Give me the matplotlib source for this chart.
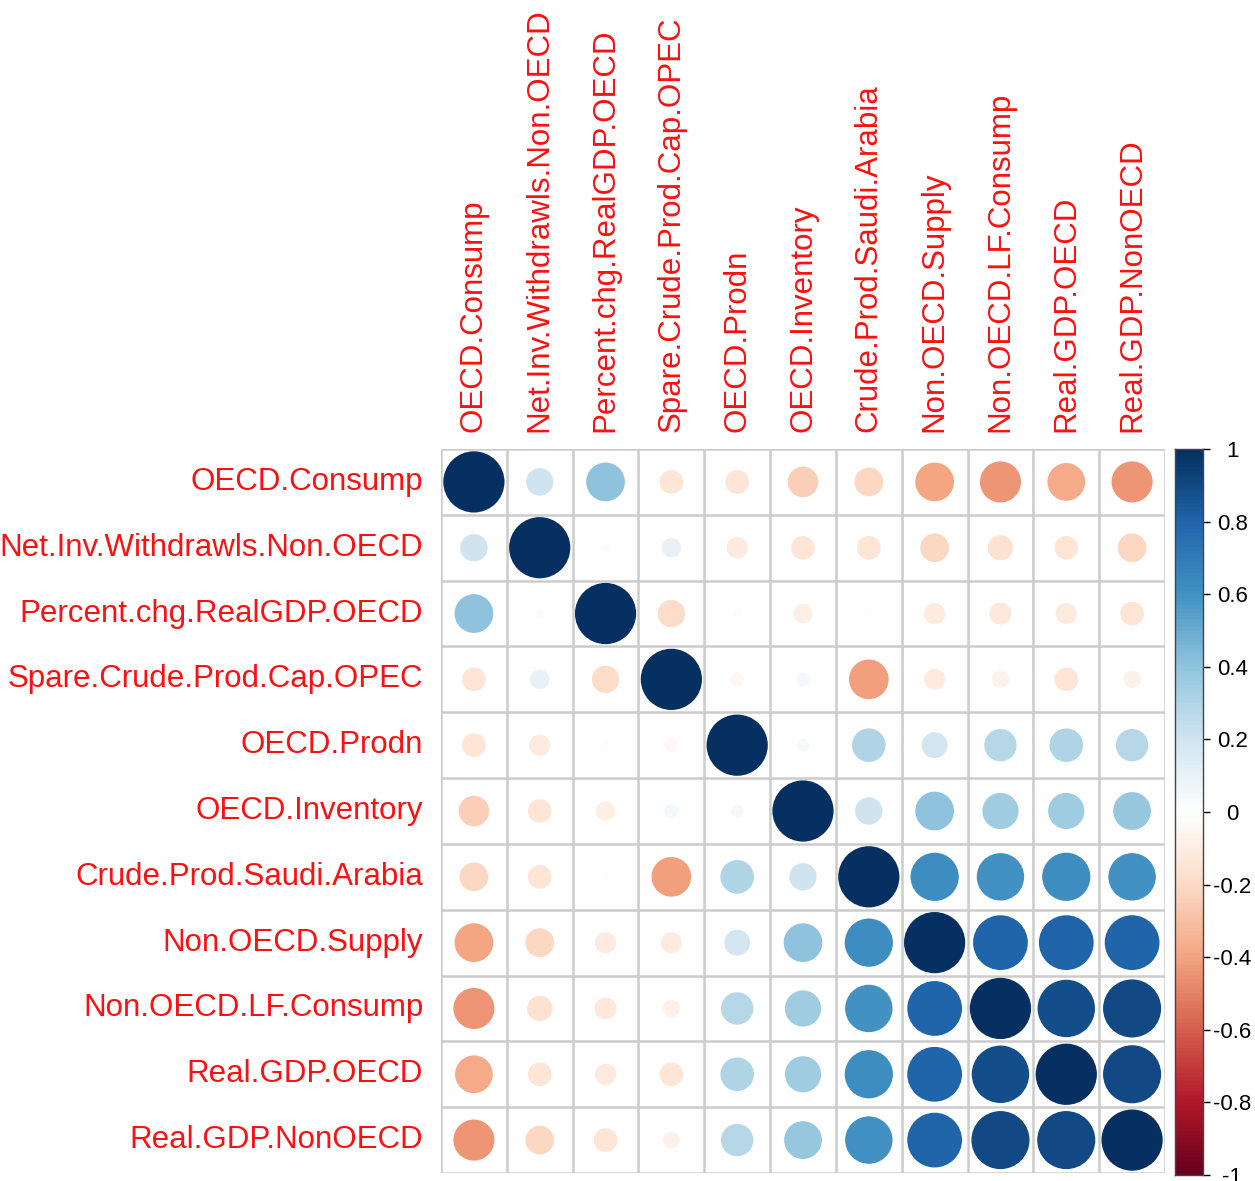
import numpy as np
import matplotlib
import matplotlib.pyplot as plt
from matplotlib.colors import LinearSegmentedColormap
from matplotlib.patches import Circle

matplotlib.rcParams["font.family"] = ["Liberation Sans", "DejaVu Sans"]

variables = [
    "OECD.Consump",
    "Net.Inv.Withdrawls.Non.OECD",
    "Percent.chg.RealGDP.OECD",
    "Spare.Crude.Prod.Cap.OPEC",
    "OECD.Prodn",
    "OECD.Inventory",
    "Crude.Prod.Saudi.Arabia",
    "Non.OECD.Supply",
    "Non.OECD.LF.Consump",
    "Real.GDP.OECD",
    "Real.GDP.NonOECD",
]

# correlation rows, same order as variables
r_oecd_consump = [1.00, 0.20, 0.40, -0.15, -0.15, -0.25, -0.22, -0.40, -0.45, -0.38, -0.45]
r_net_inv = [0.20, 1.00, 0.02, 0.10, -0.12, -0.15, -0.15, -0.22, -0.17, -0.15, -0.22]
r_pct_gdp = [0.40, 0.02, 1.00, -0.20, -0.02, -0.10, -0.02, -0.12, -0.13, -0.12, -0.15]
r_spare_cap = [-0.15, 0.10, -0.20, 1.00, -0.05, 0.05, -0.42, -0.12, -0.08, -0.15, -0.08]
r_oecd_prodn = [-0.15, -0.12, -0.02, -0.05, 1.00, 0.04, 0.30, 0.18, 0.28, 0.30, 0.28]
r_oecd_inv = [-0.25, -0.15, -0.10, 0.05, 0.04, 1.00, 0.20, 0.40, 0.35, 0.35, 0.38]
r_saudi = [-0.22, -0.15, -0.02, -0.42, 0.30, 0.20, 1.00, 0.62, 0.60, 0.62, 0.60]
r_non_supply = [-0.40, -0.22, -0.12, -0.12, 0.18, 0.40, 0.62, 1.00, 0.80, 0.80, 0.80]
r_non_lf = [-0.45, -0.17, -0.13, -0.08, 0.28, 0.35, 0.60, 0.80, 1.00, 0.88, 0.90]
r_gdp_oecd = [-0.38, -0.15, -0.12, -0.15, 0.30, 0.35, 0.62, 0.80, 0.88, 1.00, 0.90]
r_gdp_non = [-0.45, -0.22, -0.15, -0.08, 0.28, 0.38, 0.60, 0.80, 0.90, 0.90, 1.00]

cbar_ticks = [1, 0.8, 0.6, 0.4, 0.2, 0, -0.2, -0.4, -0.6, -0.8, -1]

corr = np.array([
    r_oecd_consump, r_net_inv, r_pct_gdp, r_spare_cap, r_oecd_prodn, r_oecd_inv,
    r_saudi, r_non_supply, r_non_lf, r_gdp_oecd, r_gdp_non,
])

rdbu = ["#67001F", "#B2182B", "#D6604D", "#F4A582", "#FDDBC7", "#FFFFFF",
        "#D1E5F0", "#92C5DE", "#4393C3", "#2166AC", "#053061"]
cmap = LinearSegmentedColormap.from_list("corrRdBu", rdbu, N=200)

n = len(variables)
W, H = 1255, 1181
fig = plt.figure(figsize=(W / 100, H / 100), dpi=100)

gx0, gx1, gy0, gy1 = 441, 1165, 449, 1173
ax = fig.add_axes([gx0 / W, 1 - gy1 / H, (gx1 - gx0) / W, (gy1 - gy0) / H])
ax.set_xlim(0, n)
ax.set_ylim(n, 0)
ax.axis("off")

grid_col = "#cccccc"
for k in range(n + 1):
    ax.plot([k, k], [0, n], color=grid_col, lw=1.8, solid_capstyle="butt", zorder=1)
    ax.plot([0, n], [k, k], color=grid_col, lw=1.8, solid_capstyle="butt", zorder=1)

for i in range(n):
    for j in range(n):
        v = corr[i, j]
        rad = 0.465 * np.sqrt(abs(v))
        ax.add_patch(Circle((j + 0.5, i + 0.5), rad,
                            facecolor=cmap((v + 1) / 2), edgecolor="none", zorder=2))

red = "#ff1010"
for i, name in enumerate(variables):
    ax.text(-0.27, i + 0.5, name, ha="right", va="center", color=red,
            fontsize=22.5, clip_on=False)
    ax.text(i + 0.5, -0.26, name, ha="center", va="bottom", rotation=90,
            color=red, fontsize=22.5, clip_on=False)

# colour legend
cx0, cx1 = 1175, 1203
cax = fig.add_axes([cx0 / W, 1 - 1175 / H, (cx1 - cx0) / W, (1175 - gy0) / H])
grad = np.linspace(1, -1, 400).reshape(-1, 1)
cax.imshow(grad, cmap=cmap, vmin=-1, vmax=1, aspect="auto",
           extent=[0, 1, -1, 1])
cax.set_xlim(0, 1)
cax.set_ylim(-1, 1)
cax.set_xticks([])
cax.yaxis.tick_right()
cax.set_yticks(cbar_ticks)
cax.set_yticklabels([f"{t:g}" for t in cbar_ticks])
cax.tick_params(axis="y", length=5, width=1, pad=16, labelsize=16,
                colors="black")
for lab in cax.get_yticklabels():
    lab.set_horizontalalignment("center")
for sp in cax.spines.values():
    sp.set_color("#444444")
    sp.set_linewidth(1)

fig.savefig("out.png", dpi=100)
